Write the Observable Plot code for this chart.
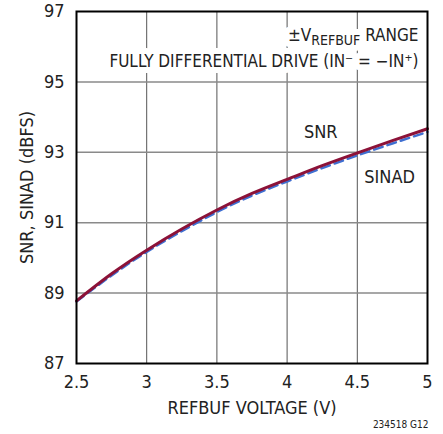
<!DOCTYPE html>
<html><head><meta charset="utf-8">
<script src="https://cdn.jsdelivr.net/npm/d3@7"></script>
<script src="https://cdn.jsdelivr.net/npm/@observablehq/plot@0.6"></script>
<style>
body{margin:0;background:#fff;}
</style></head><body><div id="chart"></div>
<script>
const FONT = '"Liberation Sans Narrow","Arial Narrow","DejaVu Sans Condensed",sans-serif';
const voltage = [2.5, 2.75, 3, 3.25, 3.5, 3.75, 4, 4.25, 4.5, 4.75, 5];
const snr   = [88.78, 89.55, 90.22, 90.82, 91.36, 91.83, 92.23, 92.62, 92.98, 93.33, 93.67];
const sinad = [88.76, 89.50, 90.17, 90.76, 91.30, 91.77, 92.17, 92.55, 92.91, 93.25, 93.58];
const xTicks = [2.5, 3, 3.5, 4, 4.5, 5];
const yTicks = [87, 89, 91, 93, 95, 97];
const xGrid = [3, 3.5, 4, 4.5];
const yGrid = [89, 91, 93, 95];
const seriesLabels = [{name: "SNR", x: 4.24, y: 93.56}, {name: "SINAD", x: 4.73, y: 92.28}];
const noteLines = ["±VREFBUF RANGE", "FULLY DIFFERENTIAL DRIVE (IN⁻ = −IN⁺)"];
const caption = "234518 G12";

const snrData = voltage.map((v, i) => ({v, db: snr[i]}));
const sinadData = voltage.map((v, i) => ({v, db: sinad[i]}));

const noteOpts = (i, halo) => ({
  frameAnchor: "top-right", dx: -9, dy: i === 0 ? 24 : 50, textAnchor: "end", lineAnchor: "middle",
  fontSize: 17, fill: halo ? "white" : "#222", stroke: halo ? "white" : "none", strokeWidth: halo ? 12 : 0
});

const chart = Plot.plot({
  width: 443, height: 434,
  marginLeft: 76, marginRight: 16, marginTop: 11, marginBottom: 71,
  style: {fontFamily: FONT, fontSize: "18px", color: "#222", background: "white", overflow: "visible"},
  x: {domain: [2.5, 5]},
  y: {domain: [87, 97]},
  marks: [
    Plot.ruleX(xGrid, {stroke: "#555", strokeWidth: 1}),
    Plot.ruleY(yGrid, {stroke: "#8a8a8a", strokeWidth: 1.5}),
    Plot.text([noteLines[0]], noteOpts(0, true)),
    Plot.text([noteLines[1]], noteOpts(1, true)),
    Plot.text([noteLines[0]], noteOpts(0, false)),
    Plot.text([noteLines[1]], noteOpts(1, false)),
    Plot.line(sinadData, {x: "v", y: "db", stroke: "#3f6fd1", strokeWidth: 2.4, strokeDasharray: "9,5", curve: "natural"}),
    Plot.line(snrData, {x: "v", y: "db", stroke: "#8c1238", strokeWidth: 3, curve: "natural"}),
    Plot.text(seriesLabels, {x: "x", y: "y", text: "name", fill: "#222", fontSize: 18}),
    Plot.frame({stroke: "black", strokeWidth: 2}),
    Plot.axisX({ticks: xTicks, tickSize: 0, tickPadding: 12, tickFormat: d => String(d), label: "REFBUF VOLTAGE (V)", labelAnchor: "center", labelOffset: 50, labelArrow: "none", fontSize: 18}),
    Plot.axisY({ticks: yTicks, tickSize: 0, tickPadding: 12, tickFormat: d => String(d), label: "SNR, SINAD (dBFS)", labelAnchor: "center", labelOffset: 56, labelArrow: "none", fontSize: 18}),
    Plot.text([caption], {frameAnchor: "bottom-right", dx: 1, dy: 61, textAnchor: "end", lineAnchor: "middle", fontSize: 10, fill: "#222"})
  ]
});
document.getElementById("chart").appendChild(chart);

// subscript for V_REFBUF
d3.select(chart).selectAll("text").each(function() {
  const t = d3.select(this);
  if (t.text() === noteLines[0]) {
    t.text("");
    t.append("tspan").text("±V");
    t.append("tspan").attr("font-size", 14).attr("dy", 4).text("REFBUF");
    t.append("tspan").attr("dy", -4).text(" RANGE");
  }
});
</script></body></html>
